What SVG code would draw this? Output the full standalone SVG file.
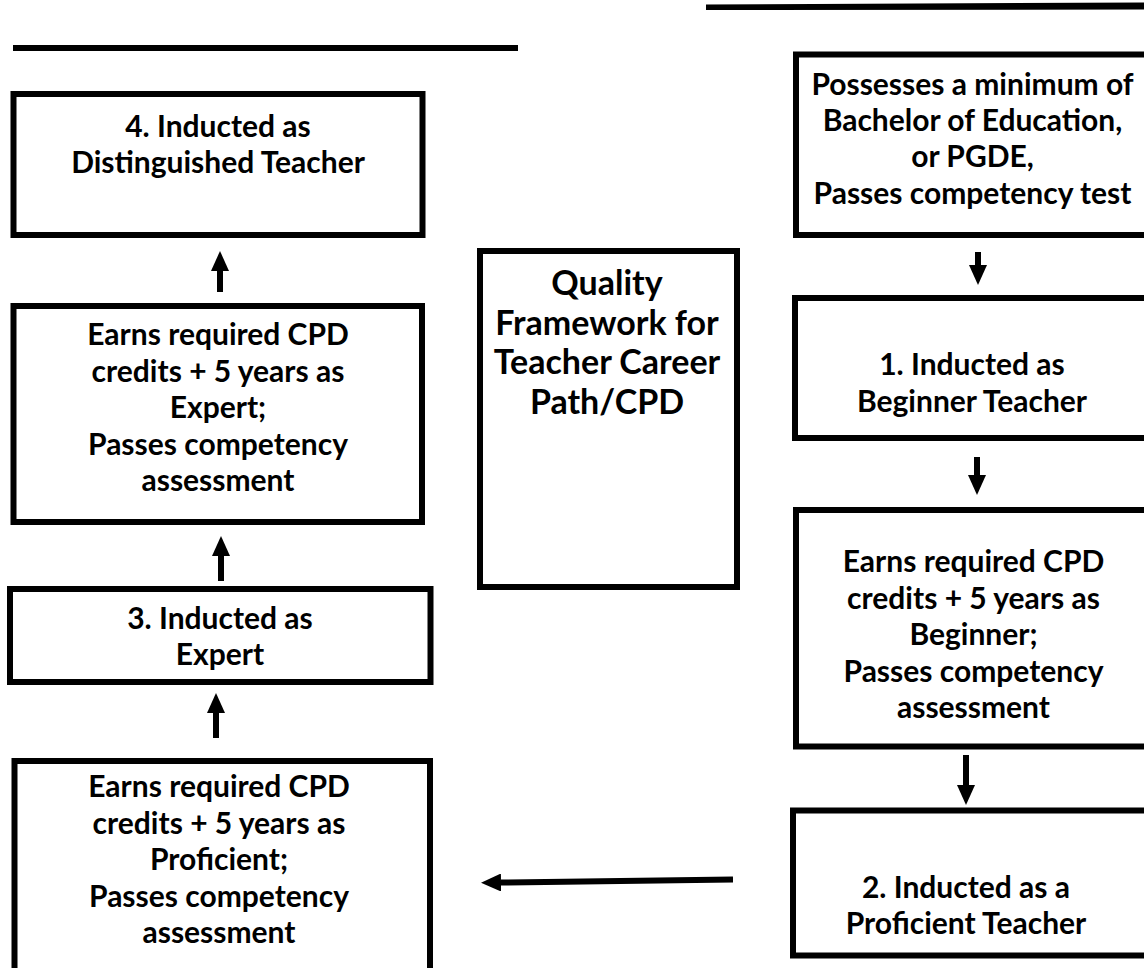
<svg xmlns="http://www.w3.org/2000/svg" width="1144" height="968" viewBox="0 0 1144 968">
  <defs>
    <style>
      .box { fill: #ffffff; stroke: #000000; stroke-width: 6; }
      .t { font-family: "Lato", "Liberation Sans", sans-serif; font-weight: bold; font-size: 30px; fill: #000000; text-anchor: middle; }
      .tc { font-family: "Lato", "Liberation Sans", sans-serif; font-weight: bold; font-size: 34px; fill: #000000; text-anchor: middle; }
      .conn { stroke: #000000; stroke-width: 6; fill: none; marker-end: url(#head); }
      .rule { fill: #000000; }
    </style>
    <marker id="head" viewBox="0 0 20 18" refX="0" refY="9" markerWidth="20" markerHeight="18" markerUnits="userSpaceOnUse" orient="auto">
      <path d="M0,0 L20,9 L0,18 z" fill="#000000"/>
    </marker>
  </defs>
  <rect x="0" y="0" width="1144" height="968" fill="#ffffff"/>

  <g id="rules">
    <rect class="rule" x="13" y="45" width="505" height="6"/>
    <polygon class="rule" points="706,4.5 1144,2.5 1144,9.5 706,10"/>
  </g>

  <g id="connectors">
    <line class="conn" x1="220" y1="292" x2="220" y2="271"/>
    <line class="conn" x1="221" y1="581" x2="221" y2="556"/>
    <line class="conn" x1="216" y1="738" x2="216" y2="713"/>
    <line class="conn" x1="978" y1="252" x2="978" y2="265"/>
    <line class="conn" x1="977" y1="457" x2="977" y2="475"/>
    <line class="conn" x1="966" y1="755" x2="966" y2="785"/>
    <line class="conn" x1="733" y1="879.5" x2="501" y2="882.5"/>
  </g>

  <g id="node-distinguished">
    <rect class="box" x="13.5" y="94" width="409" height="141"/>
    <text class="t" x="218" y="137">4. Inducted as</text>
    <text class="t" x="218" y="173">Distinguished Teacher</text>
  </g>

  <g id="node-earns-expert">
    <rect class="box" x="13.5" y="306" width="408.5" height="216"/>
    <text class="t" x="218" y="345">Earns required CPD</text>
    <text class="t" x="218" y="381.5">credits + 5 years as</text>
    <text class="t" x="218" y="418">Expert;</text>
    <text class="t" x="218" y="454.5">Passes competency</text>
    <text class="t" x="218" y="491">assessment</text>
  </g>

  <g id="node-expert">
    <rect class="box" x="10" y="589" width="420.5" height="93"/>
    <text class="t" x="220" y="629">3. Inducted as</text>
    <text class="t" x="220" y="665">Expert</text>
  </g>

  <g id="node-earns-proficient">
    <rect class="box" x="14.5" y="761" width="415.5" height="220"/>
    <text class="t" x="219" y="797">Earns required CPD</text>
    <text class="t" x="219" y="834">credits + 5 years as</text>
    <text class="t" x="219" y="870">Proficient;</text>
    <text class="t" x="219" y="907">Passes competency</text>
    <text class="t" x="219" y="943">assessment</text>
  </g>

  <g id="node-title">
    <rect class="box" x="480" y="251" width="257" height="336"/>
    <text class="tc" x="607" y="295">Quality</text>
    <text class="tc" x="607" y="335">Framework for</text>
    <text class="tc" x="607" y="374">Teacher Career</text>
    <text class="tc" x="607" y="414">Path/CPD</text>
  </g>

  <g id="node-possesses">
    <rect class="box" x="796" y="54.5" width="360" height="180.5"/>
    <text class="t" x="972.5" y="95">Possesses a minimum of</text>
    <text class="t" x="972.5" y="131">Bachelor of Education,</text>
    <text class="t" x="972.5" y="167">or PGDE,</text>
    <text class="t" x="972.5" y="204">Passes competency test</text>
  </g>

  <g id="node-beginner">
    <rect class="box" x="795" y="298" width="360" height="140"/>
    <text class="t" x="972" y="375">1. Inducted as</text>
    <text class="t" x="972" y="412">Beginner Teacher</text>
  </g>

  <g id="node-earns-beginner">
    <rect class="box" x="796" y="510" width="360" height="236.5"/>
    <text class="t" x="973.5" y="572">Earns required CPD</text>
    <text class="t" x="973.5" y="609">credits + 5 years as</text>
    <text class="t" x="973.5" y="645">Beginner;</text>
    <text class="t" x="973.5" y="682">Passes competency</text>
    <text class="t" x="973.5" y="718">assessment</text>
  </g>

  <g id="node-proficient">
    <rect class="box" x="793" y="810.5" width="360" height="145"/>
    <text class="t" x="966" y="898">2. Inducted as a</text>
    <text class="t" x="966" y="934">Proficient Teacher</text>
  </g>
</svg>
